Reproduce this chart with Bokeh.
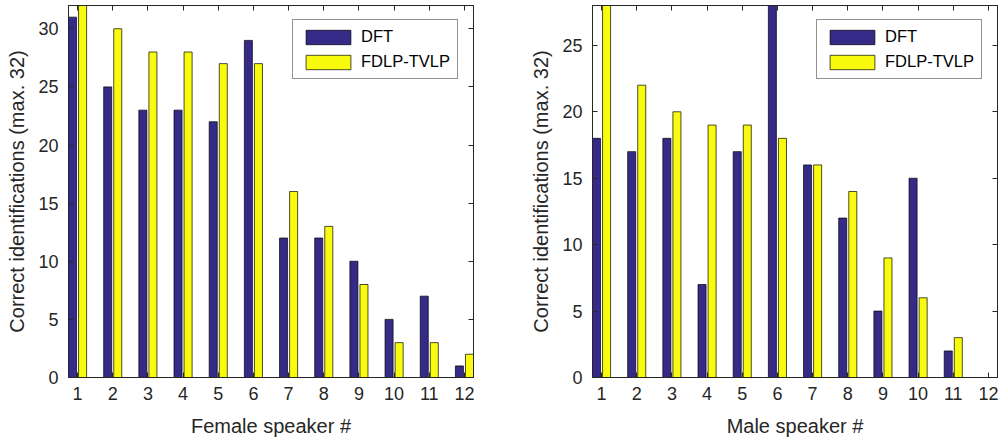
from bokeh.plotting import figure
from bokeh.layouts import row
from bokeh.models import Range1d, FixedTicker, LinearAxis, ColumnDataSource, CustomLabelingPolicy
from bokeh.transform import dodge
from bokeh.embed import file_html
from bokeh.resources import INLINE

speakers = list(range(1, 13))
female_dft = [31, 25, 23, 23, 22, 29, 12, 12, 10, 5, 7, 1]
female_fdlp = [32, 30, 28, 28, 27, 27, 16, 13, 8, 3, 3, 2]
male_dft = [18, 17, 18, 7, 17, 28, 16, 12, 5, 15, 2, 0]
male_fdlp = [28, 22, 20, 19, 19, 18, 16, 14, 9, 6, 3, 0]
series_names = ["DFT", "FDLP-TVLP"]
female_ymax = 32
male_ymax = 28
female_yticks = [0, 5, 10, 15, 20, 25, 30]
male_yticks = [0, 5, 10, 15, 20, 25]
x_labels = ["Female speaker #", "Male speaker #"]
y_label = "Correct identifications (max. 32)"

DARK = "#262626"
COLORS = ["#352A87", "#F9FB0E"]
FONT = "Liberation Sans"
OFFSET = 0.143
BAR_W = 0.2286

HIDE_ALL = """
for (const i of Array.from(indices)) { indices.unset(i) }
return indices
"""


def tick_only_axis(ticks):
    return LinearAxis(ticker=FixedTicker(ticks=ticks), major_label_text_font_size="0px",
                      major_label_policy=CustomLabelingPolicy(code=HIDE_ALL),
                      major_tick_in=5, major_tick_out=0, minor_tick_line_color=None,
                      axis_line_color=DARK, major_tick_line_color=DARK, major_label_standoff=0)


def make(xlabel, dft, fdlp, ymax, yticks, width, bl, br):
    src = ColumnDataSource(dict(x=speakers, dft=dft, fdlp=fdlp))
    p = figure(width=width, height=439, output_backend="svg", toolbar_location=None,
               x_range=Range1d(1 - OFFSET - BAR_W / 2, 12 + OFFSET + BAR_W / 2),
               y_range=Range1d(0, ymax),
               min_border_left=bl, min_border_right=br, min_border_top=5, min_border_bottom=62)
    p.xgrid.visible = False
    p.ygrid.visible = False
    p.outline_line_color = DARK
    p.outline_line_width = 1
    p.vbar(x=dodge("x", -OFFSET, range=p.x_range), top="dft", width=BAR_W, source=src,
           fill_color=COLORS[0], line_color="black", line_width=0.7, legend_label=series_names[0])
    p.vbar(x=dodge("x", OFFSET, range=p.x_range), top="fdlp", width=BAR_W, source=src,
           fill_color=COLORS[1], line_color="black", line_width=0.7, legend_label=series_names[1])

    xa = p.below[0]
    ya = p.left[0]
    xa.ticker = FixedTicker(ticks=speakers)
    ya.ticker = FixedTicker(ticks=yticks)
    for ax in (xa, ya):
        ax.major_tick_in = 5
        ax.major_tick_out = 0
        ax.minor_tick_line_color = None
        ax.axis_line_color = DARK
        ax.major_tick_line_color = DARK
        ax.major_label_text_font = FONT
        ax.major_label_text_font_size = "18px"
        ax.major_label_text_color = DARK
        ax.axis_label_text_font = FONT
        ax.axis_label_text_font_size = "20px"
        ax.axis_label_text_font_style = "normal"
        ax.axis_label_text_color = DARK
    xa.axis_label = xlabel
    ya.axis_label = y_label
    xa.major_label_standoff = 9
    xa.axis_label_standoff = 12
    ya.major_label_standoff = 10
    ya.axis_label_standoff = 7

    p.add_layout(tick_only_axis(speakers), "above")
    p.add_layout(tick_only_axis(yticks), "right")

    lg = p.legend[0]
    lg.location = (224, 298)
    lg.border_line_color = DARK
    lg.border_line_width = 1
    lg.background_fill_color = "white"
    lg.background_fill_alpha = 1
    lg.label_text_font = FONT
    lg.label_text_font_size = "16.5px"
    lg.label_text_color = "black"
    lg.glyph_width = 56
    lg.glyph_height = 18
    lg.label_height = 18
    lg.label_standoff = 5
    lg.spacing = 6
    lg.padding = 7
    lg.margin = 0
    return p


p1 = make(x_labels[0], female_dft, female_fdlp, female_ymax, female_yticks, 499, 68, 26)
p2 = make(x_labels[1], male_dft, male_fdlp, male_ymax, male_yticks, 500, 93, 2)
layout = row(p1, p2)

open("out.html", "w").write(file_html(layout, INLINE))
